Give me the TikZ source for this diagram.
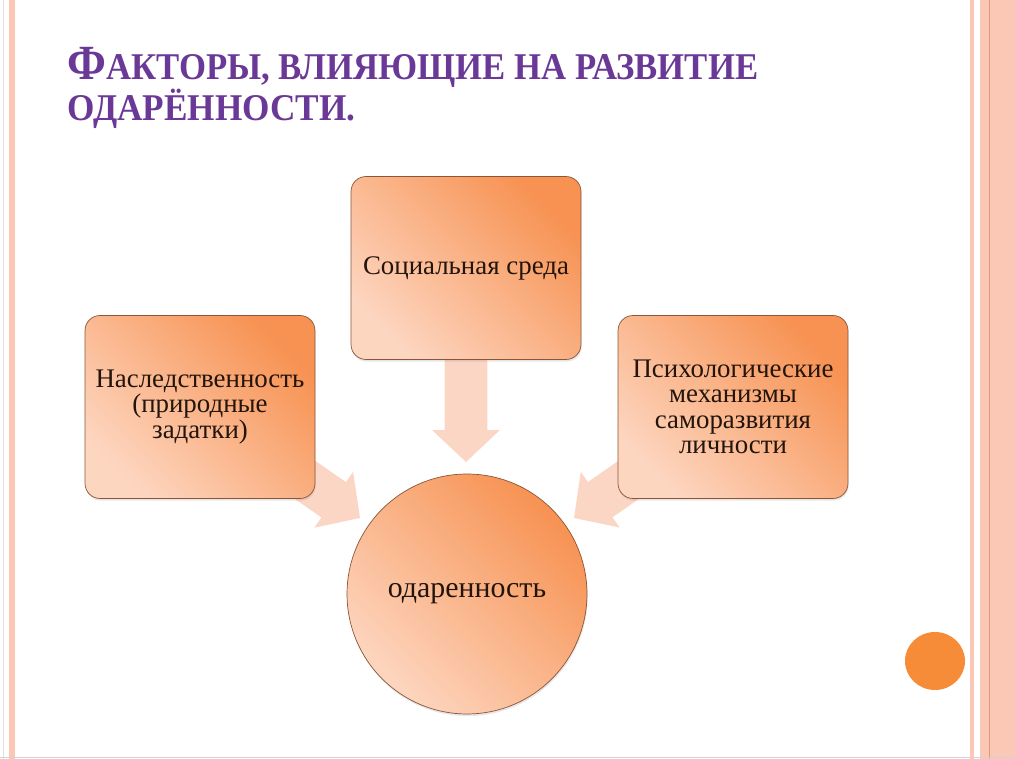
\documentclass[tikz,border=0pt]{standalone}
\usepackage{fontspec}
\setmainfont{LiberationSerif-Regular.ttf}[BoldFont=LiberationSerif-Bold.ttf]
\usepackage{graphicx}
\usetikzlibrary{calc,shadows}

\definecolor{titlepurple}{RGB}{106,56,150}
\definecolor{boxdark}{RGB}{247,146,82}
\definecolor{boxlight}{RGB}{253,214,192}
\definecolor{boxline}{RGB}{140,85,55}
\definecolor{textdark}{RGB}{35,20,12}
\definecolor{arrowpeach}{RGB}{252,214,196}
\definecolor{stripe}{RGB}{250,200,180}
\definecolor{stripeline}{RGB}{228,150,120}
\definecolor{dotorange}{RGB}{247,140,56}

% fat arrow from #1 to the tip #2
\newcommand{\blockarrow}[2]{%
  \coordinate (hb) at ($(#2)!0.64cm!(#1)$);
  \fill[arrowpeach] ($(#1)!0.43cm!90:(#2)$) -- ($(hb)!0.43cm!90:(#2)$)
    -- ($(hb)!0.68cm!90:(#2)$) -- (#2) -- ($(hb)!0.68cm!-90:(#2)$)
    -- ($(hb)!0.43cm!-90:(#2)$) -- ($(#1)!0.43cm!-90:(#2)$) -- cycle;
}

\begin{document}
\begin{tikzpicture}[x=0.02cm,y=-0.02cm,
    title/.style={text=titlepurple, font=\rmfamily\bfseries\fontsize{21.5}{22}\selectfont, inner sep=0pt, anchor=base west},
    factor/.style={rounded corners=0.3cm, draw=boxline, line width=0.4pt,
      top color=boxdark, bottom color=boxlight, shading angle=-45,
      minimum width=4.6cm, minimum height=3.66cm, align=center,
      text=textdark, font=\rmfamily\fontsize{15.3}{14.5}\selectfont,
      drop shadow={opacity=0.2, shadow xshift=0.4pt, shadow yshift=-1.2pt}},
    result/.style={circle, draw=boxline, line width=0.4pt,
      top color=boxdark, bottom color=boxlight, shading angle=-45,
      minimum size=4.8cm, inner sep=0pt, text=textdark,
      font=\rmfamily\fontsize{17}{17}\selectfont,
      drop shadow={opacity=0.2, shadow xshift=0.4pt, shadow yshift=-1.2pt}}]
  \useasboundingbox (0,0) rectangle (1015,759);

  % page frame
  \draw[gray!25] (3,0) -- (3,759);
  \fill[stripe] (9,0) rectangle (15,759);
  \fill[stripe] (970,0) rectangle (974,759);
  \fill[stripe] (980,0) rectangle (1015,759);
  \draw[stripeline] (989,0) -- (989,759);
  \draw[gray!35] (0,757) -- (1015,757);
  \fill[dotorange] (935,661) ellipse [x radius=30, y radius=29];

  % heading
  \node[title] (title1) at (67,80) {\resizebox{13.82cm}{\height}{{\fontsize{28}{28}\selectfont Ф}АКТОРЫ, ВЛИЯЮЩИЕ НА РАЗВИТИЕ}};
  \node[title] (title2) at (67,121) {\resizebox{5.76cm}{\height}{ОДАРЁННОСТИ.}};

  % tips of the arrows
  \coordinate (dtip) at (466,462);
  \coordinate (ltip) at (360,518);
  \coordinate (rtip) at (574,518);
  \coordinate (soccen) at (466,268);
  \coordinate (hercen) at (200,407);
  \coordinate (psycen) at (733,407);

  \blockarrow{soccen}{dtip}
  \blockarrow{hercen}{ltip}
  \blockarrow{psycen}{rtip}

  % factors
  \node[factor] (soc) at (soccen) {Социальная среда};
  \node[factor] (her) at (hercen) {Наследственность\\(природные\\задатки)};
  \node[factor] (psy) at (psycen) {Психологические\\механизмы\\саморазвития\\личности};

  \node[result] (gift) at (467,594) {одаренность};
\end{tikzpicture}
\end{document}
